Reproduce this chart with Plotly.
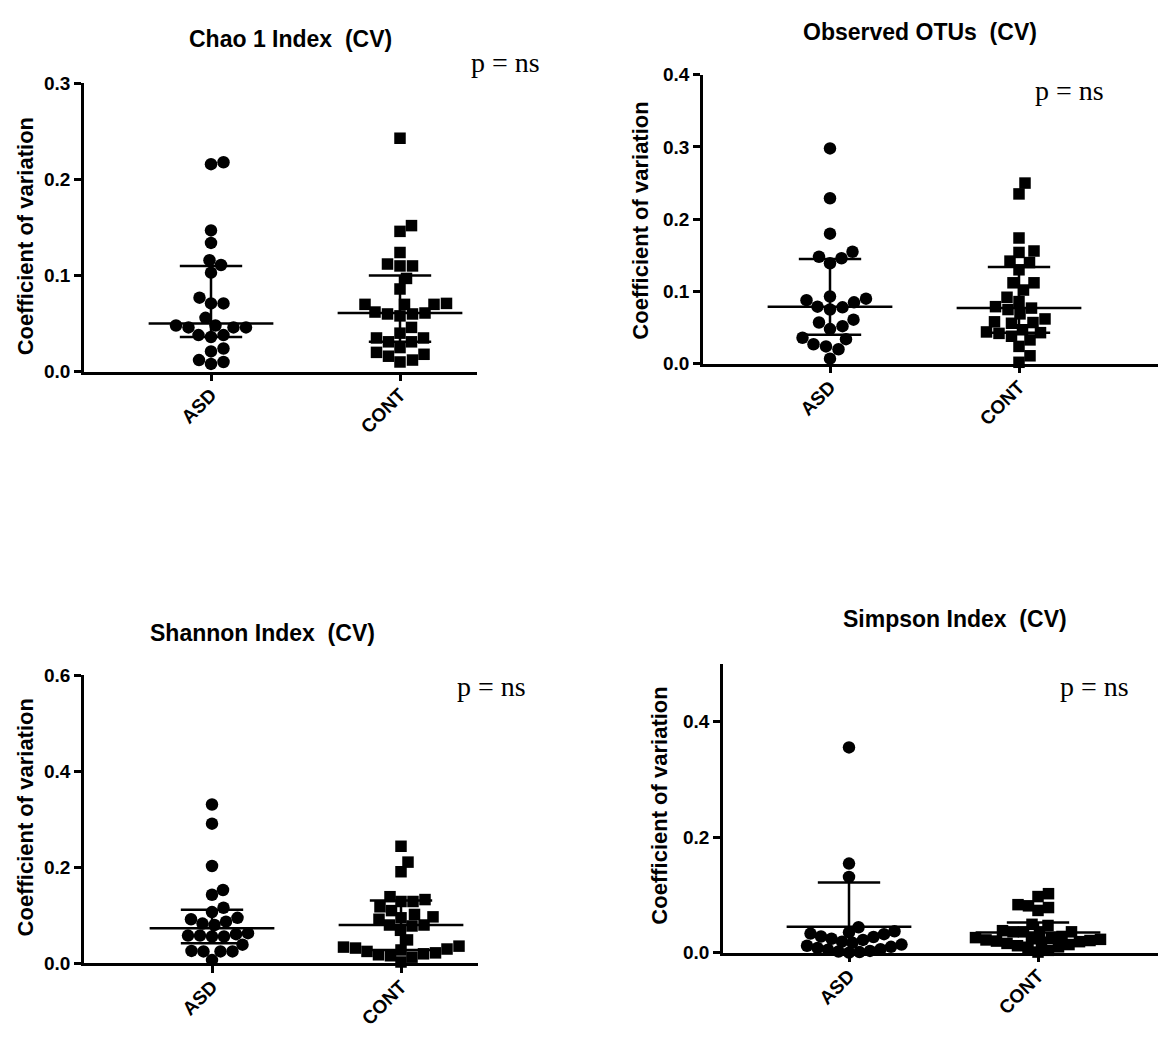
import plotly.graph_objects as go
import numpy as np

W, H = 1158, 1044

groups = ["ASD", "CONT"]

# ---- data ----
chao_asd = [0.216, 0.218, 0.147, 0.134, 0.116, 0.111, 0.103, 0.071, 0.077, 0.071, 0.056, 0.048,
            0.046, 0.046, 0.046, 0.048, 0.038, 0.036, 0.038, 0.024, 0.021, 0.012, 0.008, 0.010]
chao_cont = [0.243, 0.152, 0.146, 0.124, 0.112, 0.110, 0.110, 0.097, 0.086, 0.071, 0.070, 0.070,
             0.070, 0.062, 0.060, 0.058, 0.060, 0.061, 0.046, 0.035, 0.031, 0.031, 0.035, 0.040,
             0.025, 0.020, 0.016, 0.018, 0.010, 0.012]
chao_center = [0.050, 0.061]
chao_low = [0.036, 0.031]
chao_high = [0.110, 0.100]

otu_asd = [0.298, 0.229, 0.180, 0.148, 0.139, 0.146, 0.155, 0.090, 0.085, 0.088, 0.093, 0.078,
           0.075, 0.079, 0.061, 0.052, 0.048, 0.057, 0.036, 0.034, 0.024, 0.020, 0.027, 0.007]
otu_cont = [0.250, 0.235, 0.174, 0.156, 0.154, 0.142, 0.140, 0.130, 0.112, 0.112, 0.102, 0.092,
            0.086, 0.077, 0.079, 0.075, 0.069, 0.057, 0.058, 0.062, 0.056, 0.047, 0.042, 0.038,
            0.043, 0.044, 0.033, 0.024, 0.011, 0.002]
otu_center = [0.079, 0.077]
otu_low = [0.040, 0.043]
otu_high = [0.145, 0.134]

shannon_asd = [0.331, 0.291, 0.203, 0.153, 0.143, 0.107, 0.116, 0.092, 0.095, 0.083, 0.080, 0.087,
               0.063, 0.058, 0.056, 0.056, 0.058, 0.061, 0.039, 0.026, 0.025, 0.025, 0.025, 0.007]
shannon_cont = [0.244, 0.211, 0.191, 0.139, 0.129, 0.129, 0.133, 0.110, 0.118, 0.102, 0.097, 0.092,
                0.095, 0.080, 0.069, 0.078, 0.080, 0.049, 0.036, 0.034, 0.032, 0.030, 0.028, 0.025,
                0.022, 0.020, 0.018, 0.016, 0.013, 0.003]
shannon_center = [0.0735, 0.080]
shannon_low = [0.042, 0.028]
shannon_high = [0.112, 0.131]

simpson_asd = [0.355, 0.154, 0.131, 0.044, 0.037, 0.033, 0.032, 0.035, 0.028, 0.027, 0.024, 0.022,
               0.019, 0.017, 0.014, 0.012, 0.010, 0.008, 0.006, 0.005, 0.003, 0.002, 0.001, 0.000]
simpson_cont = [0.097, 0.081, 0.073, 0.078, 0.083, 0.102, 0.049, 0.047, 0.036, 0.036, 0.036, 0.036,
                0.038, 0.028, 0.026, 0.025, 0.024, 0.023, 0.022, 0.021, 0.020, 0.019, 0.018, 0.016,
                0.014, 0.012, 0.010, 0.007, 0.004, 0.001]
simpson_center = [0.045, 0.035]
simpson_low = [0.0, 0.017]
simpson_high = [0.1215, 0.052]

titles = ["Chao 1 Index  (CV)", "Observed OTUs  (CV)", "Shannon Index  (CV)", "Simpson Index  (CV)"]
y_ticks = [[0.0, 0.1, 0.2, 0.3], [0.0, 0.1, 0.2, 0.3, 0.4], [0.0, 0.2, 0.4, 0.6], [0.0, 0.2, 0.4]]
y_max = [0.3, 0.4, 0.6, 0.5]
p_text = "p = ns"
y_title = "Coefficient of variation"

# ---- layout geometry (pixels) ----
panels = [
    dict(ax_x=84, right=477, c0=211, base=369, top=75, title=(290, 30), ptxt=(505, 54), ylab=(25, 231), gap=12.5),
    dict(ax_x=703, right=1158, c0=830, base=361, top=66, title=(920, 22), ptxt=(1069, 82), ylab=(641, 215), gap=12.5),
    dict(ax_x=84, right=478, c0=212, base=973, top=679, title=(262, 636), ptxt=(491, 690), ylab=(25, 824), gap=12.0),
    dict(ax_x=723, right=1158, c0=849, base=962, top=667, title=(955, 622), ptxt=(1094, 690), ylab=(660, 812), gap=10.5),
]
unit_px = 189.0

data = [
    (chao_asd, chao_cont, chao_center, chao_low, chao_high),
    (otu_asd, otu_cont, otu_center, otu_low, otu_high),
    (shannon_asd, shannon_cont, shannon_center, shannon_low, shannon_high),
    (simpson_asd, simpson_cont, simpson_center, simpson_low, simpson_high),
]


def beeswarm(vals, px_per_val, diam):
    vals = np.asarray(vals, float)
    order = np.argsort(vals)
    placed = []
    offs = np.zeros(len(vals))
    cands = [0.0]
    for k in range(1, 400):
        cands += [k * 0.5, -k * 0.5]
    for i in order:
        y = vals[i] * px_per_val
        for c in cands:
            ok = True
            for (px, py) in placed:
                if (px - c) ** 2 + (py - y) ** 2 < diam ** 2:
                    ok = False
                    break
            if ok:
                offs[i] = c
                placed.append((c, y))
                break
    return offs


fig = go.Figure()
annotations = []
layout_axes = {}
font_tick = dict(family="Liberation Sans, Arial", size=19, color="black", weight="bold")

for k, (p, d) in enumerate(zip(panels, data)):
    idx = "" if k == 0 else str(k + 1)
    xa, ya = "x" + idx, "y" + idx
    asd, cont, center, low, high = d
    px_per_val = (p["base"] - p["top"]) / y_max[k]
    xr = [(p["ax_x"] - p["c0"]) / unit_px, (p["right"] - p["c0"]) / unit_px]

    for gi, (vals, sym, size) in enumerate([(asd, "circle", 12.5), (cont, "square", 11.5)]):
        offs = beeswarm(vals, px_per_val, p["gap"]) / unit_px
        fig.add_trace(go.Scatter(
            x=gi + offs, y=vals, mode="markers", xaxis=xa, yaxis=ya,
            marker=dict(symbol=sym, size=size, color="black", line=dict(width=0)),
            cliponaxis=False, showlegend=False, hoverinfo="y"))

    lx, ly = [], []
    for gi in range(2):
        lx += [gi - 0.33, gi + 0.33, None]
        ly += [center[gi], center[gi], None]
        lx += [gi, gi, None]
        ly += [max(low[gi], 0), high[gi], None]
        lx += [gi - 0.165, gi + 0.165, None]
        ly += [high[gi], high[gi], None]
        if low[gi] > 0:
            lx += [gi - 0.165, gi + 0.165, None]
            ly += [low[gi], low[gi], None]
    fig.add_trace(go.Scatter(x=lx, y=ly, mode="lines", xaxis=xa, yaxis=ya,
                             line=dict(color="black", width=2.5), cliponaxis=False,
                             showlegend=False, hoverinfo="skip"))

    layout_axes["xaxis" + idx] = dict(
        domain=[p["ax_x"] / W, p["right"] / W], range=xr, anchor=ya,
        tickvals=[0, 1], ticktext=groups, tickangle=-45, ticks="outside", ticklen=7,
        tickwidth=2.5, tickcolor="black", showline=True, linewidth=2.5, linecolor="black",
        showgrid=False, zeroline=False, tickfont=font_tick, fixedrange=True,
        ticklabelstandoff=-5)
    layout_axes["yaxis" + idx] = dict(
        domain=[1 - p["base"] / H, 1 - p["top"] / H], range=[0, y_max[k]], anchor=xa,
        tickvals=y_ticks[k], ticktext=[f"{v:.1f}" for v in y_ticks[k]], ticks="outside",
        ticklen=7, tickwidth=2.5, tickcolor="black", showline=True, linewidth=2.5,
        linecolor="black", showgrid=False, zeroline=False, tickfont=font_tick, fixedrange=True)

    annotations.append(dict(text="<b>" + titles[k] + "</b>", x=p["title"][0] / W, y=1 - p["title"][1] / H,
                            xref="paper", yref="paper", showarrow=False, xanchor="center", yanchor="middle",
                            font=dict(family="Liberation Sans, Arial", size=23, color="black")))
    annotations.append(dict(text=p_text, x=p["ptxt"][0] / W, y=1 - p["ptxt"][1] / H,
                            xref="paper", yref="paper", showarrow=False, xanchor="center", yanchor="middle",
                            font=dict(family="Liberation Serif, Times New Roman", size=28, color="black")))
    annotations.append(dict(text="<b>" + y_title + "</b>", x=p["ylab"][0] / W, y=1 - p["ylab"][1] / H,
                            xref="paper", yref="paper", showarrow=False, xanchor="center", yanchor="middle",
                            textangle=-90,
                            font=dict(family="Liberation Sans, Arial", size=22, color="black")))

fig.update_layout(width=W, height=H, margin=dict(l=0, r=0, t=0, b=0), plot_bgcolor="white",
                  paper_bgcolor="white", annotations=annotations, **layout_axes)

fig.write_html("out.html", config={"displayModeBar": False})
